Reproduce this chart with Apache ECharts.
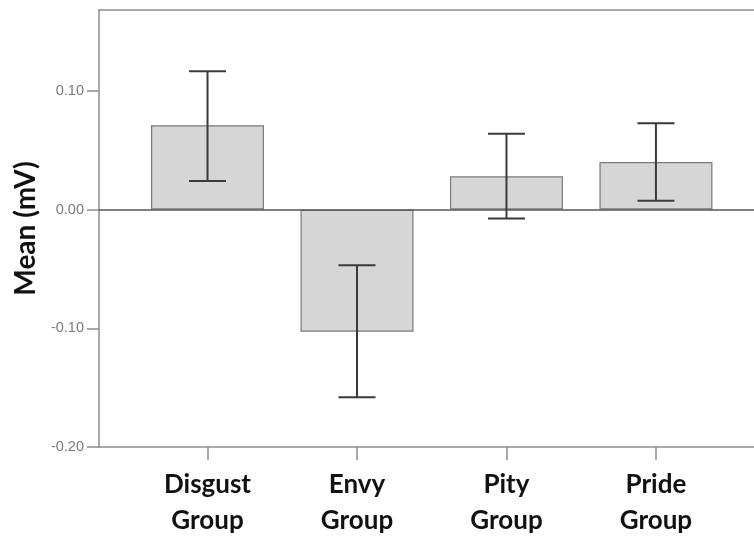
<!DOCTYPE html>
<html>
<head>
<meta charset="utf-8">
<script src="https://cdn.jsdelivr.net/npm/echarts@6/dist/echarts.min.js"></script>
<style>html,body{margin:0;padding:0;background:#fff;}#c{width:754px;height:538px;}</style>
</head>
<body>
<div id="c"></div>
<script>
const categories = ['Disgust\nGroup', 'Envy\nGroup', 'Pity\nGroup', 'Pride\nGroup'];
const positions = [1, 2, 3, 4];
const means = [0.071, -0.103, 0.028, 0.040];
const errLow = [0.024, -0.158, -0.0075, 0.0073];
const errHigh = [0.1165, -0.047, 0.0637, 0.0727];
const yTicks = [-0.2, -0.1, 0, 0.1];

const chart = echarts.init(document.getElementById('c'), null, {renderer: 'canvas'});
const axisGray = '#8c8c8c';
chart.setOption({
  backgroundColor: '#ffffff',
  animation: false,
  grid: {left: 99, top: 10, right: 0, bottom: 91, outerBoundsMode: 'none', containLabel: false},
  xAxis: [{
    type: 'value', min: 0.274, max: 4.656, position: 'bottom',
    splitLine: {show: false},
    axisLine: {show: true, onZero: false, lineStyle: {color: axisGray, width: 1.5}},
    axisTick: {show: true, length: 13, customValues: positions, lineStyle: {color: axisGray, width: 1.5}},
    axisLabel: {
      show: true, customValues: positions, margin: 20,
      formatter: v => categories[Math.round(v) - 1] || '',
      fontFamily: 'Lato', fontWeight: 'bold', fontSize: 26, lineHeight: 36, color: '#111'
    }
  }, {
    type: 'value', min: 0.274, max: 4.656, position: 'top',
    splitLine: {show: false},
    axisLine: {show: true, onZero: false, lineStyle: {color: axisGray, width: 1.5}},
    axisTick: {show: false}, axisLabel: {show: false}
  }],
  yAxis: {
    type: 'value', min: -0.2, max: 0.168,
    name: 'Mean (mV)', nameLocation: 'middle', nameGap: 59,
    nameTextStyle: {fontFamily: 'Lato', fontWeight: 'bold', fontSize: 28, color: '#111'},
    splitLine: {show: false},
    axisLine: {show: true, onZero: false, lineStyle: {color: axisGray, width: 1.5}},
    axisTick: {show: true, length: 12, customValues: yTicks, lineStyle: {color: axisGray, width: 1.5}},
    axisLabel: {
      customValues: yTicks, margin: 15,
      formatter: v => v.toFixed(2),
      fontFamily: 'Liberation Sans', fontSize: 14.5, color: '#7a7a7a'
    }
  },
  series: [{
    type: 'bar',
    data: positions.map((p, i) => [p, means[i]]),
    barWidth: 113,
    itemStyle: {color: '#d6d6d6', borderColor: '#7a7a7a', borderWidth: 1.2},
    markLine: {
      silent: true, symbol: 'none', label: {show: false},
      lineStyle: {color: '#555', width: 1.5, type: 'solid'},
      data: [{yAxis: 0}]
    },
    z: 2
  }, {
    type: 'custom',
    data: positions.map((p, i) => [p, errLow[i], errHigh[i]]),
    renderItem: function (params, api) {
      const x = api.value(0);
      const lo = api.coord([x, api.value(1)]);
      const hi = api.coord([x, api.value(2)]);
      const hw = 18.5;
      const style = {stroke: '#3a3a3a', lineWidth: 2};
      return {
        type: 'group',
        children: [
          {type: 'line', shape: {x1: lo[0], y1: lo[1], x2: hi[0], y2: hi[1]}, style: style},
          {type: 'line', shape: {x1: lo[0] - hw, y1: lo[1], x2: lo[0] + hw, y2: lo[1]}, style: style},
          {type: 'line', shape: {x1: hi[0] - hw, y1: hi[1], x2: hi[0] + hw, y2: hi[1]}, style: style}
        ]
      };
    },
    z: 5
  }]
});
</script>
</body>
</html>
